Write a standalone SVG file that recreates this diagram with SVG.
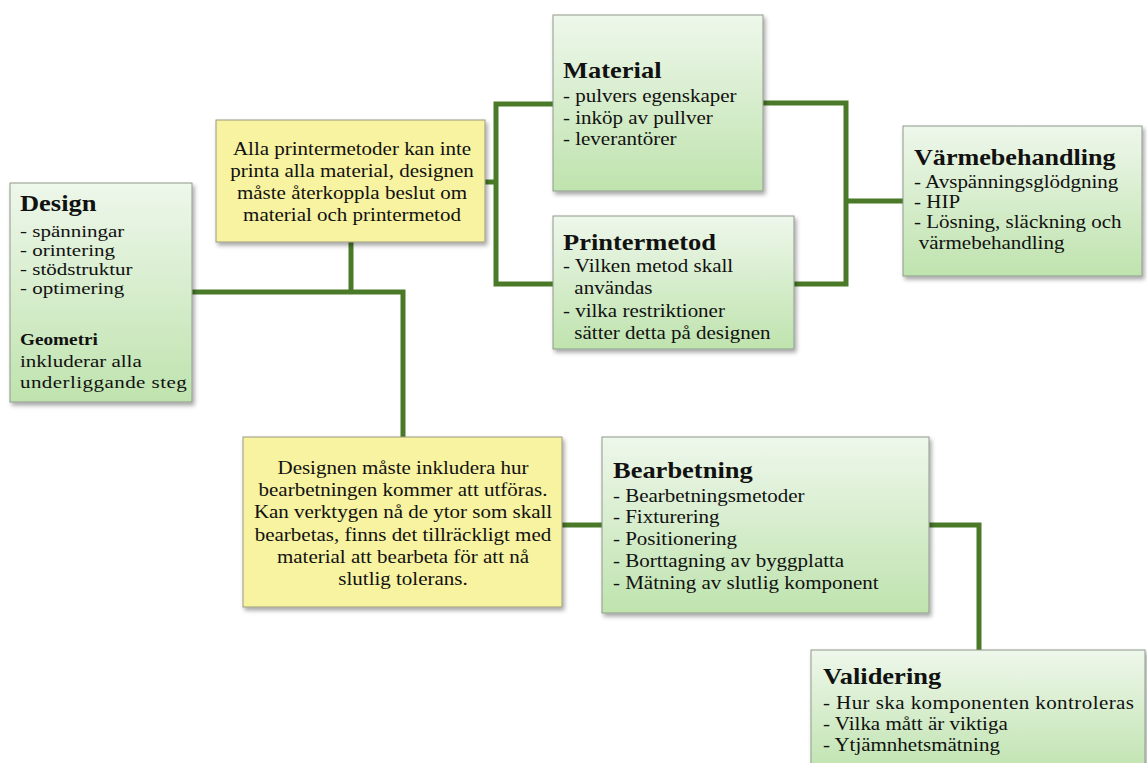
<svg xmlns="http://www.w3.org/2000/svg" width="1147" height="763" viewBox="0 0 1147 763">
<defs>
<linearGradient id="g" x1="0" y1="0" x2="0" y2="1">
<stop offset="0" stop-color="#eef7eb"/>
<stop offset="1" stop-color="#bfe3ae"/>
</linearGradient>
<filter id="sh" x="-10%" y="-10%" width="125%" height="125%">
<feDropShadow dx="2" dy="3" stdDeviation="2" flood-color="#000" flood-opacity="0.35"/>
</filter>
</defs>
<style>
.gb{fill:url(#g);stroke:#8f9a8c;stroke-width:1;filter:url(#sh)}
.yb{fill:#f8f3a0;stroke:#9a9a80;stroke-width:1;filter:url(#sh)}
text{font-family:"Liberation Serif","Times New Roman",serif;fill:#111}
.t{font-size:23px;font-weight:bold}
.b{font-size:18.5px}
.d{font-size:17px}
.v{font-size:18px}
.s{font-size:17.5px;font-weight:bold}
.c{text-anchor:middle}
.con{fill:none;stroke:#4a7a28;stroke-width:5;stroke-linejoin:miter}
</style>
<rect width="1147" height="763" fill="#fff"/>
<g id="connectors">
<path class="con" d="M192,292 H403 V437"/>
<path class="con" d="M351,242 V292"/>
<path class="con" d="M485,182 H496"/>
<path class="con" d="M553,104 H496 V284 H553"/>
<path class="con" d="M763,103 H846 V284 H794"/>
<path class="con" d="M846,201 H903"/>
<path class="con" d="M562,525 H602"/>
<path class="con" d="M929,525 H979 V650"/>
</g>
<g id="design">
<rect class="gb" x="10" y="183" width="182" height="219"/>
<text class="t" x="20" y="211" transform="matrix(1.152,0,0,1,-3.04,0)">Design</text>
<g transform="matrix(1.235,0,0,1,-4.7,0)">
<text class="d" x="20" y="237">- spänningar</text>
<text class="d" x="20" y="256">- orintering</text>
<text class="d" x="20" y="275">- stödstruktur</text>
<text class="d" x="20" y="294">- optimering</text>
<text class="d" x="20" y="367">inkluderar alla</text>
<text class="d" x="20" y="388" textLength="135" lengthAdjust="spacing">underliggande steg</text>
</g>
<text class="s" x="20" y="345" transform="matrix(1.1,0,0,1,-2,0)">Geometri</text>
</g>
<g id="note1">
<rect class="yb" x="216" y="120" width="269" height="122"/>
<g transform="matrix(1.135,0,0,1,-47.5,0)">
<text class="b c" x="352" y="155">Alla printermetoder kan inte</text>
<text class="b c" x="352" y="177">printa alla material, designen</text>
<text class="b c" x="352" y="199">måste återkoppla beslut om</text>
<text class="b c" x="352" y="221">material och printermetod</text>
</g>
</g>
<g id="material">
<rect class="gb" x="553" y="15" width="210" height="176"/>
<text class="t" x="563" y="78" transform="matrix(1.152,0,0,1,-85.6,0)">Material</text>
<g transform="matrix(1.135,0,0,1,-76,0)">
<text class="b" x="563" y="102">- pulvers egenskaper</text>
<text class="b" x="563" y="124">- inköp av pullver</text>
<text class="b" x="563" y="145">- leverantörer</text>
</g>
</g>
<g id="printermetod">
<rect class="gb" x="553" y="216" width="241" height="133"/>
<text class="t" x="563" y="250" transform="matrix(1.152,0,0,1,-85.6,0)">Printermetod</text>
<g transform="matrix(1.135,0,0,1,-76,0)">
<text class="b" x="563" y="272">- Vilken metod skall</text>
<text class="b" x="573" y="294">användas</text>
<text class="b" x="563" y="317">- vilka restriktioner</text>
<text class="b" x="573" y="339">sätter detta på designen</text>
</g>
</g>
<g id="varmebehandling">
<rect class="gb" x="903" y="126" width="239" height="150"/>
<text class="t" x="914" y="165" transform="matrix(1.135,0,0,1,-123.4,0)">Värmebehandling</text>
<g transform="matrix(1.167,0,0,1,-152.6,0)">
<text class="v" x="914" y="188">- Avspänningsglödgning</text>
<text class="v" x="914" y="208">- HIP</text>
<text class="v" x="914" y="228">- Lösning, släckning och</text>
<text class="v" x="918" y="249">värmebehandling</text>
</g>
</g>
<g id="note2">
<rect class="yb" x="243" y="437" width="319" height="170"/>
<g transform="matrix(1.135,0,0,1,-54.4,0)">
<text class="b c" x="403" y="474">Designen måste inkludera hur</text>
<text class="b c" x="403" y="496">bearbetningen kommer att utföras.</text>
<text class="b c" x="403" y="518">Kan verktygen nå de ytor som skall</text>
<text class="b c" x="403" y="541">bearbetas, finns det tillräckligt med</text>
<text class="b c" x="403" y="563">material att bearbeta för att nå</text>
<text class="b c" x="403" y="585">slutlig tolerans.</text>
</g>
</g>
<g id="bearbetning">
<rect class="gb" x="602" y="437" width="327" height="176"/>
<text class="t" x="613" y="478" transform="matrix(1.152,0,0,1,-93.2,0)">Bearbetning</text>
<g transform="matrix(1.135,0,0,1,-82.8,0)">
<text class="b" x="613" y="502">- Bearbetningsmetoder</text>
<text class="b" x="613" y="523">- Fixturering</text>
<text class="b" x="613" y="545">- Positionering</text>
<text class="b" x="613" y="567">- Borttagning av byggplatta</text>
<text class="b" x="613" y="589">- Mätning av slutlig komponent</text>
</g>
</g>
<g id="validering">
<rect class="gb" x="811" y="650" width="334" height="125"/>
<text class="t" x="823" y="684" transform="matrix(1.152,0,0,1,-125.1,0)">Validering</text>
<g transform="matrix(1.135,0,0,1,-111.1,0)">
<text class="b" x="823" y="709" textLength="274" lengthAdjust="spacing">- Hur ska komponenten kontroleras</text>
<text class="b" x="823" y="730">- Vilka mått är viktiga</text>
<text class="b" x="823" y="751">- Ytjämnhetsmätning</text>
</g>
</g>
</svg>
